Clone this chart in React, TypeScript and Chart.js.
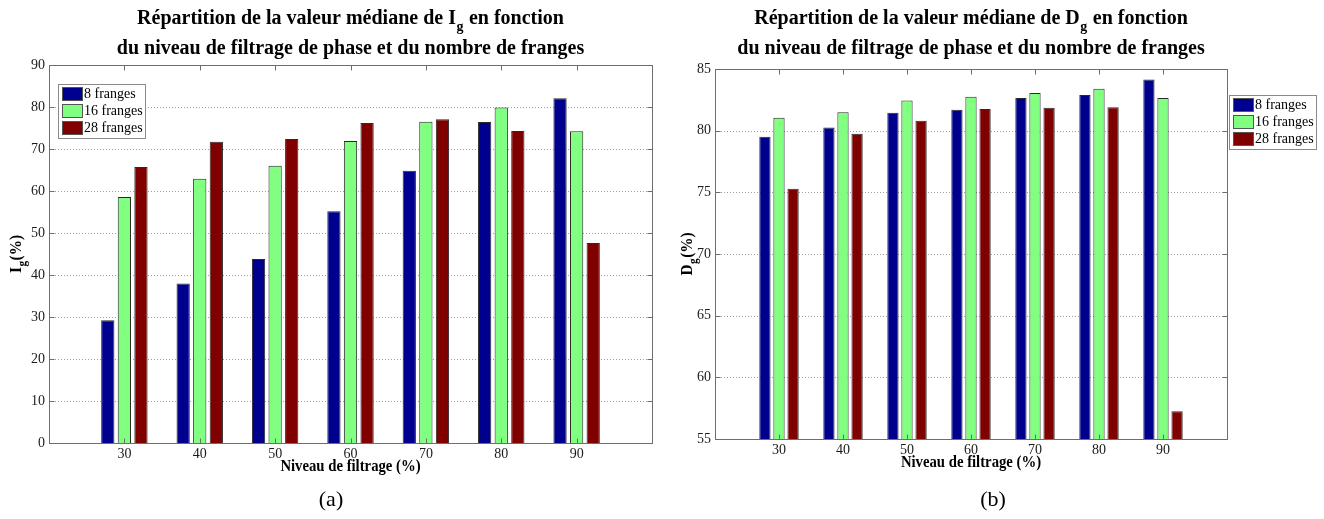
import React, { useEffect, useRef } from "react";
import { Chart, registerables } from "chart.js";
Chart.register(...registerables);

const levels = [30, 40, 50, 60, 70, 80, 90];
const seriesNames = ["8 franges", "16 franges", "28 franges"];
const seriesColors = ["#00008F", "#80FF80", "#800000"];

const igFr8 = [29.2, 38.0, 43.8, 55.2, 64.8, 76.4, 82.1];
const igFr16 = [58.6, 62.9, 66.0, 71.9, 76.5, 79.9, 74.2];
const igFr28 = [65.7, 71.7, 72.4, 76.2, 77.1, 74.3, 47.6];

const dgFr8 = [79.5, 80.25, 81.45, 81.7, 82.65, 82.9, 84.15];
const dgFr16 = [81.05, 81.5, 82.45, 82.75, 83.05, 83.4, 82.65];
const dgFr28 = [75.3, 79.75, 80.8, 81.75, 81.85, 81.9, 57.25];

const xLabel = "Niveau de filtrage (%)";
const titleLine2 = "du niveau de filtrage de phase et du nombre de franges";

const SERIF = '"Liberation Serif", "Times New Roman", serif';

type Part = { t: string; sub?: boolean };

type PanelCfg = {
  left: number;
  values: number[][];
  yMin: number;
  yMax: number;
  yStep: number;
  yW: number;
  xH: number;
  padTop: number;
  padRight: number;
  titleParts: Part[];
  yTitle: Part[];
  yTitleX: number;
  legend: { x: number; y: number; w: number; h: number };
  caption: string;
};

function drawRich(
  ctx: CanvasRenderingContext2D,
  parts: Part[],
  cx: number,
  y: number,
  mainFont: string,
  subFont: string,
  subDy: number,
  sx: number
) {
  const widths = parts.map((p) => {
    ctx.font = p.sub ? subFont : mainFont;
    return ctx.measureText(p.t).width + (p.sub ? 1 : 0);
  });
  const total = widths.reduce((a, b) => a + b, 0);
  ctx.save();
  ctx.translate(cx, y);
  ctx.scale(sx, 1);
  let x = -total / 2;
  ctx.textAlign = "left";
  ctx.textBaseline = "alphabetic";
  parts.forEach((p, i) => {
    ctx.font = p.sub ? subFont : mainFont;
    ctx.fillText(p.t, x + (p.sub ? 0.5 : 0), p.sub ? subDy : 0);
    x += widths[i];
  });
  ctx.restore();
}

function makeDecor(cfg: PanelCfg) {
  return {
    id: "decor",
    beforeDatasetsDraw(chart: any) {
      const ctx = chart.ctx as CanvasRenderingContext2D;
      const a = chart.chartArea;
      const ys = chart.scales.y;
      ctx.save();
      ctx.strokeStyle = "#a0a0a0";
      ctx.lineWidth = 1;
      ctx.setLineDash([1, 2]);
      ys.ticks.forEach((t: any) => {
        if (t.value <= ys.min || t.value >= ys.max) return;
        const py = Math.round(ys.getPixelForValue(t.value)) + 0.5;
        ctx.beginPath();
        ctx.moveTo(a.left, py);
        ctx.lineTo(a.right, py);
        ctx.stroke();
      });
      ctx.restore();
    },
    afterDraw(chart: any) {
      const ctx = chart.ctx as CanvasRenderingContext2D;
      const a = chart.chartArea;
      const xs = chart.scales.x;
      const ys = chart.scales.y;
      ctx.save();
      ctx.strokeStyle = "#6e6e6e";
      ctx.lineWidth = 1;
      const L = Math.round(a.left) + 0.5;
      const R = Math.round(a.right) + 0.5;
      const T = Math.round(a.top) + 0.5;
      const B = Math.round(a.bottom) + 0.5;
      ctx.strokeRect(L, T, R - L, B - T);
      const line = (x1: number, y1: number, x2: number, y2: number) => {
        ctx.beginPath();
        ctx.moveTo(x1, y1);
        ctx.lineTo(x2, y2);
        ctx.stroke();
      };
      xs.ticks.forEach((t: any) => {
        if (t.value <= xs.min || t.value >= xs.max) return;
        const px = Math.round(xs.getPixelForValue(t.value)) + 0.5;
        line(px, T, px, T + 5);
        line(px, B, px, B - 5);
      });
      ys.ticks.forEach((t: any) => {
        if (t.value <= ys.min || t.value >= ys.max) return;
        const py = Math.round(ys.getPixelForValue(t.value)) + 0.5;
        line(L, py, L + 5, py);
        line(R, py, R - 5, py);
      });

      ctx.fillStyle = "#000";
      const cx = (a.left + a.right) / 2;
      const tFont = `bold 20px ${SERIF}`;
      ctx.font = tFont;
      const w2 = ctx.measureText(titleLine2).width;
      const sx = Math.min(1, 470 / w2);
      drawRich(ctx, cfg.titleParts, cx, 24, tFont, `bold 14px ${SERIF}`, 7, sx);
      drawRich(ctx, [{ t: titleLine2 }], cx, 54, tFont, tFont, 0, sx);

      // x axis title
      drawRich(ctx, [{ t: xLabel }], cx, a.bottom + 28, `bold 16px ${SERIF}`, `bold 16px ${SERIF}`, 0, 0.92);

      // y axis title
      ctx.save();
      ctx.translate(cfg.yTitleX, (a.top + a.bottom) / 2);
      ctx.rotate(-Math.PI / 2);
      drawRich(ctx, cfg.yTitle, 0, 5, `bold 16px ${SERIF}`, `bold 12px ${SERIF}`, 5, 0.95);
      ctx.restore();

      // legend
      const lg = cfg.legend;
      ctx.fillStyle = "#fff";
      ctx.fillRect(lg.x, lg.y, lg.w, lg.h);
      ctx.strokeStyle = "#8a8a8a";
      ctx.strokeRect(lg.x + 0.5, lg.y + 0.5, lg.w, lg.h);
      chart.data.datasets.forEach((ds: any, i: number) => {
        const ry = lg.y + 3 + i * 17;
        ctx.fillStyle = ds.backgroundColor;
        ctx.fillRect(lg.x + 4, ry, 21, 14);
        ctx.strokeStyle = "#555";
        ctx.strokeRect(lg.x + 4.5, ry + 0.5, 20, 13);
        ctx.fillStyle = "#000";
        ctx.font = `14px ${SERIF}`;
        ctx.textAlign = "left";
        ctx.textBaseline = "middle";
        ctx.fillText(ds.label, lg.x + 26, ry + 7.5);
      });

      // caption
      ctx.fillStyle = "#000";
      ctx.font = `22px ${SERIF}`;
      ctx.textAlign = "center";
      ctx.textBaseline = "middle";
      ctx.fillText(cfg.caption, 331, 500);
      ctx.restore();
    },
  };
}

function Panel({ cfg }: { cfg: PanelCfg }) {
  const ref = useRef<HTMLCanvasElement>(null);
  useEffect(() => {
    const tickFont = { family: SERIF, size: 14 };
    const chart = new Chart(ref.current!, {
      type: "bar",
      data: {
        datasets: seriesNames.map((name, k) => ({
          label: name,
          data: levels.map((lv, i) => ({ x: lv, y: cfg.values[k][i] })),
          backgroundColor: seriesColors[k],
          borderColor: "#2a2a2a",
          borderWidth: 1,
          borderSkipped: "start",
          categoryPercentage: 0.66,
          barPercentage: 0.8,
        })),
      } as any,
      options: {
        responsive: false,
        animation: false,
        devicePixelRatio: 1,
        layout: { padding: { left: 0, right: cfg.padRight, top: cfg.padTop, bottom: 0 } },
        plugins: {
          legend: { display: false },
          title: { display: false },
          tooltip: { enabled: false },
        },
        scales: {
          x: {
            type: "linear",
            offset: false,
            min: 20,
            max: 100,
            ticks: {
              stepSize: 10,
              autoSkip: false,
              maxRotation: 0,
              padding: 3,
              font: tickFont,
              color: "#1a1a1a",
              callback: (v: any) => (v > 20 && v < 100 ? String(v) : ""),
            },
            grid: { display: false, drawTicks: false, offset: false },
            border: { display: false },
            afterFit: (s: any) => {
              s.height = cfg.xH;
            },
          },
          y: {
            type: "linear",
            min: cfg.yMin,
            max: cfg.yMax,
            ticks: {
              stepSize: cfg.yStep,
              padding: 4,
              font: tickFont,
              color: "#1a1a1a",
            },
            grid: { display: false, drawTicks: false },
            border: { display: false },
            afterFit: (s: any) => {
              s.width = cfg.yW;
            },
          },
        },
      } as any,
      plugins: [makeDecor(cfg)],
    });
    return () => chart.destroy();
  }, []);
  return (
    <canvas
      ref={ref}
      width={662}
      height={519}
      style={{ position: "absolute", left: cfg.left, top: 0, width: 662, height: 519 }}
    />
  );
}

const leftCfg: PanelCfg = {
  left: 0,
  values: [igFr8, igFr16, igFr28],
  yMin: 0,
  yMax: 90,
  yStep: 10,
  yW: 49,
  xH: 76,
  padTop: 65,
  padRight: 10,
  titleParts: [{ t: "Répartition de la valeur médiane de I" }, { t: "g", sub: true }, { t: " en fonction" }],
  yTitle: [{ t: "I" }, { t: "g", sub: true }, { t: "(%)" }],
  yTitleX: 16,
  legend: { x: 58, y: 84, w: 87, h: 54 },
  caption: "(a)",
};

const rightCfg: PanelCfg = {
  left: 662,
  values: [dgFr8, dgFr16, dgFr28],
  yMin: 55,
  yMax: 85,
  yStep: 5,
  yW: 53,
  xH: 80,
  padTop: 69,
  padRight: 97,
  titleParts: [{ t: "Répartition de la valeur médiane de D" }, { t: "g", sub: true }, { t: " en fonction" }],
  yTitle: [{ t: "D" }, { t: "g", sub: true }, { t: "(%)" }],
  yTitleX: 25,
  legend: { x: 567, y: 95, w: 87, h: 54 },
  caption: "(b)",
};

export default function App() {
  return (
    <div style={{ position: "fixed", left: 0, top: 0, width: 1324, height: 519, background: "#fff" }}>
      <Panel cfg={leftCfg} />
      <Panel cfg={rightCfg} />
    </div>
  );
}
